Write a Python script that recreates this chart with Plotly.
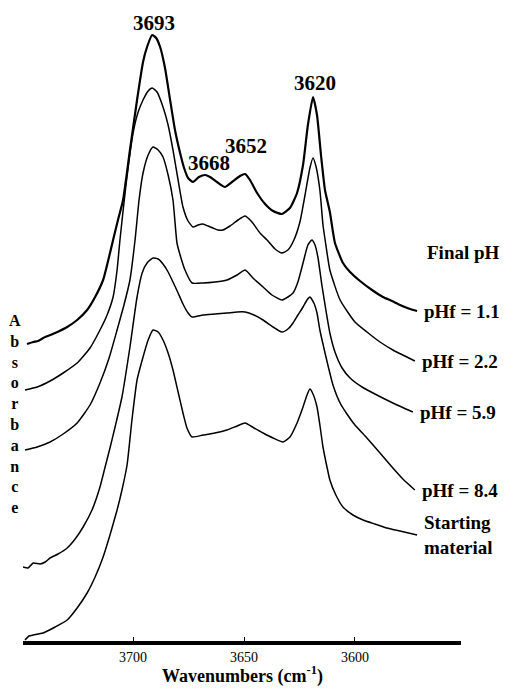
import plotly.graph_objects as go

# Wavenumbers (cm-1) and absorbance (arbitrary, offset-stacked)
wn_ph11 = [3747.8, 3745.0, 3742.8, 3740.5, 3735.1, 3729.7, 3725.2, 3720.7, 3717.1, 3713.5, 3711.7, 3709.0, 3706.8, 3704.5, 3701.4, 3698.2, 3695.5, 3693.7, 3691.4, 3689.6, 3687.8, 3685.6, 3683.3, 3681.1, 3678.8, 3677.0, 3675.2, 3673.0, 3670.3, 3667.6, 3665.3, 3662.2, 3658.6, 3655.4, 3651.8, 3649.5, 3647.3, 3644.1, 3640.5, 3636.9, 3632.9, 3629.3, 3626.1, 3623.4, 3621.2, 3618.9, 3617.1, 3615.3, 3613.5, 3611.3, 3609.0, 3605.4, 3602.2, 3597.7, 3592.3, 3587.4, 3583.3, 3579.7, 3575.2, 3572.0]
abs_ph11 = [2.97, 2.99, 3.00, 3.03, 3.08, 3.14, 3.21, 3.31, 3.44, 3.61, 3.76, 4.01, 4.21, 4.41, 4.91, 5.41, 5.79, 5.94, 6.06, 6.03, 5.94, 5.73, 5.41, 5.11, 4.88, 4.73, 4.63, 4.59, 4.64, 4.66, 4.64, 4.59, 4.54, 4.59, 4.65, 4.67, 4.61, 4.48, 4.37, 4.30, 4.27, 4.33, 4.48, 4.76, 5.16, 5.44, 5.26, 4.86, 4.51, 4.29, 3.98, 3.78, 3.69, 3.60, 3.51, 3.44, 3.40, 3.36, 3.32, 3.30]

wn_ph22 = [3748.7, 3743.2, 3737.4, 3731.5, 3725.2, 3719.4, 3714.9, 3711.7, 3709.0, 3707.2, 3705.9, 3703.2, 3700.0, 3697.7, 3695.5, 3693.2, 3691.4, 3689.2, 3686.5, 3684.2, 3682.0, 3679.7, 3677.5, 3675.2, 3673.0, 3670.7, 3668.5, 3666.2, 3664.0, 3661.7, 3659.5, 3656.3, 3652.7, 3649.5, 3646.4, 3642.8, 3639.6, 3636.0, 3632.9, 3630.2, 3627.5, 3624.8, 3622.5, 3620.3, 3618.9, 3617.6, 3615.8, 3614.4, 3613.1, 3611.3, 3606.7, 3600.0, 3594.6, 3588.7, 3582.9, 3577.5, 3573.0]
abs_ph22 = [2.51, 2.54, 2.60, 2.68, 2.78, 2.93, 3.11, 3.26, 3.44, 3.71, 4.01, 4.56, 5.08, 5.29, 5.41, 5.50, 5.53, 5.49, 5.34, 5.16, 4.91, 4.61, 4.34, 4.20, 4.14, 4.16, 4.17, 4.15, 4.13, 4.11, 4.11, 4.15, 4.21, 4.25, 4.19, 4.08, 4.01, 3.92, 3.88, 3.91, 4.01, 4.19, 4.46, 4.73, 4.83, 4.75, 4.51, 4.16, 3.96, 3.71, 3.41, 3.19, 3.09, 2.99, 2.91, 2.85, 2.80]

wn_ph59 = [3748.7, 3743.2, 3737.4, 3731.5, 3725.2, 3719.4, 3714.9, 3710.8, 3707.2, 3704.1, 3701.4, 3699.1, 3697.3, 3695.5, 3693.2, 3691.0, 3688.7, 3686.5, 3684.2, 3682.0, 3680.2, 3678.4, 3676.6, 3673.4, 3668.5, 3663.1, 3657.7, 3653.1, 3649.5, 3645.5, 3641.4, 3637.4, 3632.9, 3630.2, 3627.9, 3625.7, 3623.4, 3621.2, 3619.4, 3618.0, 3616.7, 3614.9, 3613.1, 3611.3, 3609.0, 3605.8, 3602.2, 3596.8, 3591.0, 3582.9, 3573.9]
abs_ph59 = [1.91, 1.94, 1.99, 2.07, 2.18, 2.36, 2.58, 2.83, 3.11, 3.36, 3.61, 4.01, 4.41, 4.68, 4.86, 4.94, 4.91, 4.84, 4.66, 4.41, 3.98, 3.83, 3.71, 3.58, 3.58, 3.59, 3.61, 3.66, 3.71, 3.62, 3.54, 3.46, 3.41, 3.44, 3.48, 3.59, 3.78, 3.96, 4.01, 3.96, 3.84, 3.56, 3.31, 3.08, 2.89, 2.73, 2.63, 2.54, 2.47, 2.38, 2.29]

wn_ph84 = [3749.6, 3747.3, 3745.0, 3741.9, 3739.6, 3737.4, 3733.8, 3729.7, 3726.1, 3722.5, 3718.5, 3714.9, 3712.6, 3710.4, 3708.1, 3705.0, 3701.4, 3698.2, 3695.9, 3693.7, 3691.0, 3688.7, 3686.5, 3684.2, 3682.0, 3679.7, 3677.5, 3675.2, 3673.4, 3668.5, 3663.1, 3657.7, 3653.1, 3649.5, 3645.5, 3641.4, 3636.9, 3632.9, 3630.2, 3627.9, 3625.7, 3623.4, 3621.6, 3620.3, 3618.5, 3617.1, 3615.8, 3614.0, 3612.2, 3609.9, 3606.7, 3603.6, 3600.0, 3594.6, 3588.7, 3582.9, 3578.4, 3573.0]
abs_ph84 = [0.74, 0.73, 0.78, 0.77, 0.79, 0.83, 0.87, 0.93, 1.02, 1.14, 1.31, 1.54, 1.74, 1.93, 2.14, 2.44, 2.94, 3.44, 3.68, 3.78, 3.83, 3.82, 3.77, 3.69, 3.59, 3.48, 3.37, 3.28, 3.24, 3.26, 3.27, 3.28, 3.29, 3.29, 3.26, 3.21, 3.14, 3.09, 3.12, 3.18, 3.26, 3.34, 3.41, 3.44, 3.38, 3.28, 3.11, 2.93, 2.76, 2.56, 2.38, 2.27, 2.16, 2.03, 1.88, 1.73, 1.62, 1.51]

wn_start = [3748.7, 3746.9, 3745.0, 3742.8, 3740.5, 3735.1, 3729.7, 3725.2, 3720.7, 3717.1, 3713.5, 3710.4, 3707.2, 3705.0, 3702.7, 3700.5, 3698.2, 3695.5, 3693.2, 3691.0, 3688.7, 3686.5, 3684.2, 3682.0, 3679.7, 3677.5, 3675.7, 3673.4, 3668.5, 3663.1, 3657.7, 3653.1, 3649.5, 3645.5, 3641.4, 3636.9, 3632.4, 3629.3, 3626.1, 3623.4, 3621.6, 3620.3, 3618.9, 3617.1, 3615.8, 3614.4, 3612.6, 3611.3, 3608.6, 3605.4, 3600.9, 3596.3, 3591.0, 3585.6, 3579.7, 3572.0]
abs_start = [0.01, 0.05, 0.06, 0.07, 0.08, 0.14, 0.21, 0.33, 0.48, 0.64, 0.84, 1.06, 1.31, 1.51, 1.76, 2.21, 2.61, 2.84, 3.01, 3.11, 3.09, 3.01, 2.88, 2.71, 2.49, 2.28, 2.13, 2.04, 2.06, 2.08, 2.11, 2.15, 2.18, 2.13, 2.08, 2.03, 1.99, 2.04, 2.18, 2.34, 2.46, 2.52, 2.47, 2.34, 2.16, 1.94, 1.74, 1.61, 1.46, 1.34, 1.26, 1.21, 1.17, 1.13, 1.10, 1.06]

series_labels = ["pHf = 1.1", "pHf = 2.2", "pHf = 5.9", "pHf = 8.4", "Starting<br>material"]
tick_values = [3700, 3650, 3600]
tick_labels = ["3700", "3650", "3600"]
peak_labels = ["3693", "3668", "3652", "3620"]
peak_label_x = [3690.5, 3665.8, 3649.1, 3618.0]
peak_label_y = [6.18, 4.78, 4.95, 5.58]

SERIF = "Liberation Serif, Times New Roman, serif"

series = [
    (wn_ph11, abs_ph11, 2.2),
    (wn_ph22, abs_ph22, 1.5),
    (wn_ph59, abs_ph59, 1.5),
    (wn_ph84, abs_ph84, 1.5),
    (wn_start, abs_start, 1.5),
]

fig = go.Figure()
for (xs, ys, w), name in zip(series, series_labels):
    fig.add_trace(go.Scatter(x=xs, y=ys, mode="lines", name=name,
                             line=dict(color="black", width=w, shape="spline", smoothing=0.5),
                             showlegend=False, hoverinfo="skip"))

annotations = []
for (xs, ys, w), name in zip(series, series_labels):
    annotations.append(dict(x=xs[-1], y=ys[-1], xref="x", yref="y", text="<b>%s</b>" % name,
                            showarrow=False, xanchor="left", yanchor="middle", xshift=5, align="left",
                            font=dict(family=SERIF, size=19, color="black")))
annotations.append(dict(x=wn_ph11[-1], y=3.89, xref="x", yref="y", text="<b>Final pH</b>",
                        showarrow=False, xanchor="left", yanchor="middle", xshift=8,
                        font=dict(family=SERIF, size=19, color="black")))
for t, px_, py_ in zip(peak_labels, peak_label_x, peak_label_y):
    annotations.append(dict(x=px_, y=py_, xref="x", yref="y", text="<b>%s</b>" % t,
                            showarrow=False, xanchor="center", yanchor="middle",
                            font=dict(family=SERIF, size=21, color="black")))
annotations.append(dict(x=-0.018, y=0.354, xref="paper", yref="paper",
                        text="<b>" + "<br>".join(list("Absorbance")) + "</b>",
                        showarrow=False, xanchor="center", yanchor="middle", align="center",
                        font=dict(family=SERIF, size=16, color="black")))
annotations.append(dict(x=0.5, y=-0.053, xref="paper", yref="paper",
                        text="<b>Wavenumbers (cm<sup>-1</sup>)</b>",
                        showarrow=False, xanchor="center", yanchor="middle",
                        font=dict(family=SERIF, size=18, color="black")))

fig.update_layout(
    width=508, height=691,
    margin=dict(l=23, r=47, t=0, b=50),
    paper_bgcolor="white", plot_bgcolor="white",
    annotations=annotations,
    xaxis=dict(range=[3749.6, 3552.2], showgrid=False, zeroline=False,
               showline=True, linewidth=3.5, linecolor="black",
               tickvals=tick_values, ticktext=tick_labels,
               ticks="inside", ticklen=4, tickwidth=1, tickcolor="black",
               tickfont=dict(family=SERIF, size=14, color="black"),
               ticklabelstandoff=0),
    yaxis=dict(range=[0, 6.41], visible=False),
)

fig.write_html("out.html", config={"displayModeBar": False},
               post_script="document.body.style.margin='0';document.body.style.padding='0';document.body.style.overflow='hidden';")
